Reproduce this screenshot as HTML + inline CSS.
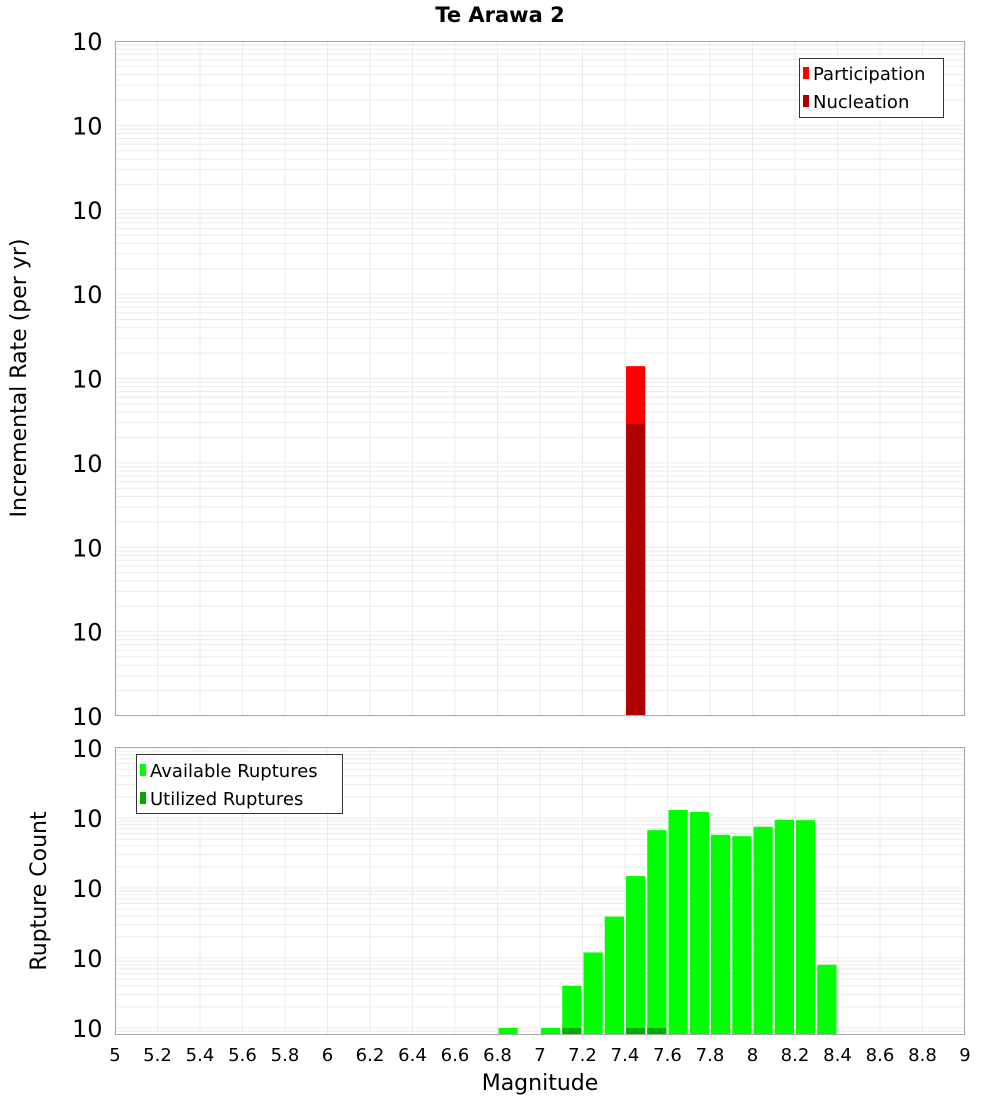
<!DOCTYPE html>
<html><head><meta charset="utf-8"><style>
body{margin:0;background:#fff;font-family:"DejaVu Sans","Liberation Sans",sans-serif}
svg text{font-family:"DejaVu Sans","Liberation Sans",sans-serif}
</style></head><body>
<svg id="c" width="1000" height="1100" xmlns="http://www.w3.org/2000/svg">
<text x="500" y="22" text-anchor="middle" font-size="21" font-weight="bold">Te Arawa 2</text>
<text transform="translate(26,378) rotate(-90)" text-anchor="middle" font-size="22">Incremental Rate (per yr)</text>
<text transform="translate(46,891) rotate(-90)" text-anchor="middle" font-size="22">Rupture Count</text>
<text x="540" y="1090" text-anchor="middle" font-size="22">Magnitude</text>
<g id="top"></g><g id="bot"></g>
</svg>
<script>
const binCenters=[7.45];
const participation=[1.4e-6];
const nucleation=[2.9e-7];
const ruptureBins=[6.85,7.05,7.15,7.25,7.35,7.45,7.55,7.65,7.75,7.85,7.95,8.05,8.15,8.25,8.35];
const available=[1,1,4,12,39,148,670,1300,1220,575,550,750,940,930,8];
const utilizedBins=[7.15,7.45,7.55];
const utilized=[1,1,1];
const xTicks=[5,5.2,5.4,5.6,5.8,6,6.2,6.4,6.6,6.8,7,7.2,7.4,7.6,7.8,8,8.2,8.4,8.6,8.8,9];
const topExps=[-10,-9,-8,-7,-6,-5,-4,-3,-2];
const botExps=[0,1,2,3,4];

const NS="http://www.w3.org/2000/svg";
const X0=115,X1=965;
const xs=m=>X0+(m-5)/4*(X1-X0);
function mk(p,tag,a){const e=document.createElementNS(NS,tag);for(const k in a)e.setAttribute(k,a[k]);p.appendChild(e);return e;}
function panel(g,top,bot,ytop,ybot,minL,maxL,name){
  // ylog mapping: value at ytop = 10^maxL ; ybot = 10^minL
  const ys=v=>ybot-(Math.log10(v)-minL)/(maxL-minL)*(ybot-ytop);
  const grid=mk(g,'g',{});
  for(let d=Math.floor(minL);d<maxL;d++)for(let k=1;k<10;k++){const v=k*Math.pow(10,d);const l=Math.log10(v);if(l<minL||l>maxL)continue;const y=ys(v);
    mk(grid,'line',{x1:X0,x2:X1,y1:y,y2:y,stroke:'#ebebeb','stroke-width':1});}
  xTicks.forEach(t=>mk(grid,'line',{x1:xs(t),x2:xs(t),y1:top,y2:bot,stroke:'#ebebeb','stroke-width':1}));
  return ys;
}
const T=document.getElementById('top'),B=document.getElementById('bot');
// top
const ysT=panel(T,41,716,41,716,-10,-2,'top');
participation.forEach((v,i)=>{const x=xs(binCenters[i]-0.05)+1,w=xs(binCenters[i]+0.05)-xs(binCenters[i]-0.05)-2;
  const r=mk(T,'rect',{x:x,y:ysT(v),width:w,height:716-ysT(v),fill:'#ff0000'});
  });
nucleation.forEach((v,i)=>{const x=xs(binCenters[i]-0.05)+1,w=xs(binCenters[i]+0.05)-xs(binCenters[i]-0.05)-2;
  const r=mk(T,'rect',{x:x,y:ysT(v),width:w,height:716-ysT(v),fill:'#b00000'});
  });
mk(T,'rect',{x:X0+0.5,y:41.5,width:X1-X0-1,height:674,fill:'none',stroke:'#aaaaaa'});
topExps.forEach(e=>{const y=ysT(Math.pow(10,e));const t=mk(T,'text',{x:72,y:y+9,'font-size':24});t.textContent='10';
  const s=mk(T,'tspan',{dy:-14,'font-size':16});s.textContent=String(e);
  });
// top legend
const lg=mk(T,'g',{});
mk(lg,'rect',{x:799.5,y:58.5,width:144,height:59,fill:'#fff',stroke:'#333'});
mk(lg,'rect',{x:803,y:67,width:6,height:12,fill:'#ff0000'});
mk(lg,'rect',{x:803,y:95,width:6,height:12,fill:'#b00000'});
let t1=mk(lg,'text',{x:813,y:80,'font-size':18});t1.textContent='Participation';
let t2=mk(lg,'text',{x:813,y:108,'font-size':18});t2.textContent='Nucleation';
// bottom
const yb0=1028,decB=70;
const minB=-(1035-yb0)/decB,maxB=4+(748-747)/decB;
const ysB=panel(B,747,1035,747,1035,minB,maxB,'bottom');
function bars(bins,vals,fill,name){bins.forEach((c,i)=>{const x=xs(c-0.05)+1,w=xs(c+0.05)-xs(c-0.05)-2;const y=ysB(vals[i]);
  const r=mk(B,'rect',{x:x,y:y,width:w,height:1035-y,fill:fill});});}
bars(ruptureBins,available,'#00ff00','available-bar');
bars(utilizedBins,utilized,'#00aa00','utilized-bar');
mk(B,'rect',{x:X0+0.5,y:747.5,width:X1-X0-1,height:287,fill:'none',stroke:'#aaaaaa'});
botExps.forEach(e=>{const y=ysB(Math.pow(10,e));const t=mk(B,'text',{x:72,y:y+9,'font-size':24});t.textContent='10';
  const s=mk(B,'tspan',{dy:-14,'font-size':16});s.textContent=String(e);
  });
xTicks.forEach(v=>{const t=mk(B,'text',{x:xs(v),y:1061,'text-anchor':'middle','font-size':18});t.textContent=String(v);
  });
const lb=mk(B,'g',{});
mk(lb,'rect',{x:136.5,y:754.5,width:206,height:59,fill:'#fff',stroke:'#333'});
mk(lb,'rect',{x:140,y:764,width:6,height:12,fill:'#00ff00'});
mk(lb,'rect',{x:140,y:792,width:6,height:12,fill:'#00aa00'});
let t3=mk(lb,'text',{x:150,y:777,'font-size':18});t3.textContent='Available Ruptures';
let t4=mk(lb,'text',{x:150,y:805,'font-size':18});t4.textContent='Utilized Ruptures';
</script>
</body></html>
